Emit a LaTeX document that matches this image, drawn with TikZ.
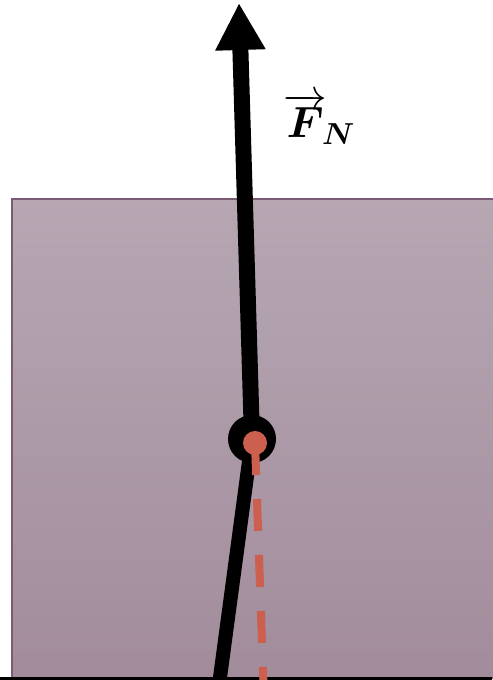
\documentclass[tikz,border=0pt]{standalone}
\usepackage{bm}
\usetikzlibrary{arrows.meta}
\definecolor{boxtop}{RGB}{182,167,179}
\definecolor{boxbot}{RGB}{162,140,155}
\definecolor{boxrim}{RGB}{122,90,116}
\definecolor{plumbred}{RGB}{205,95,78}
\newcommand{\FN}{\fontsize{27}{32}\selectfont}

\begin{document}
\begin{tikzpicture}
\tikzstyle{texto}=[draw=none,fill=none,black,font=\FN,inner sep=0pt]
\tikzstyle{rod}=[black,line width=0.28cm]
\tikzstyle{force}=[black,line width=0.32cm,-{Triangle[width=0.94cm,length=0.94cm]}]
\tikzstyle{plumb}=[plumbred,line width=0.16cm,dash pattern=on 0.64cm off 0.48cm]

\useasboundingbox (0,0) rectangle (9.84,13.6);

% block
\shade[top color=boxtop,bottom color=boxbot,draw=boxrim,line width=0.03cm]
  (0.24,0.04) rectangle (9.9,9.62);
\draw[black,line width=0.06cm] (0,0.02) -- (9.84,0.02);

\coordinate (joint) at (5.04,4.82);
\coordinate (foot) at (4.38,-0.1);
\coordinate (tip) at (4.78,13.54);
\coordinate (bob) at (5.10,4.74);
\coordinate (down) at (5.27,-0.1);

\draw[rod] (foot) -- (joint);
\draw[force] (joint) -- (tip);
\fill[black] (joint) circle (0.48);
\draw[plumb] (bob) -- (down);
\fill[plumbred] (bob) circle (0.24);

\node[texto,anchor=base west] (fn) at (5.66,10.84)
  {$\overrightarrow{\bm F}_{\!\bm N}$};
\end{tikzpicture}
\end{document}
